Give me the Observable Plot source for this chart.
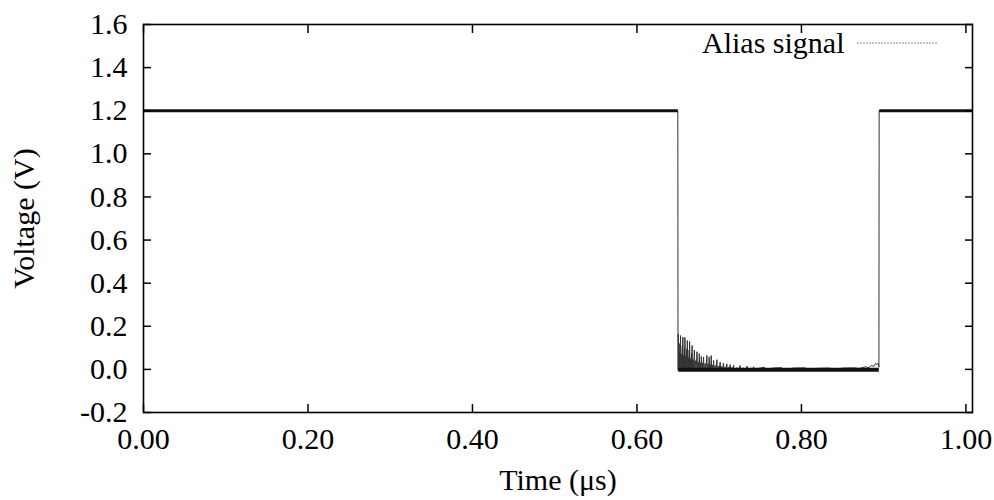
<!DOCTYPE html>
<html><head><meta charset="utf-8">
<script src="https://cdn.jsdelivr.net/npm/d3@7"></script>
<script src="https://cdn.jsdelivr.net/npm/@observablehq/plot@0.6"></script>
<style>
body{margin:0;background:#fff;}
#wrap{position:relative;width:994px;height:500px;font-family:"Liberation Serif","Times New Roman",serif;}
#legend{position:absolute;left:0;top:0;pointer-events:none;}
</style></head><body><div id="wrap"></div>
<script>
// ---- data ----
const seriesName = "Alias signal";
const xLabel = "Time (μs)";
const yLabel = "Voltage (V)";
const xTicks = [0.0, 0.2, 0.4, 0.6, 0.8, 1.0];
const yTicks = [-0.2, 0.0, 0.2, 0.4, 0.6, 0.8, 1.0, 1.2, 1.4, 1.6];

// trace samples (time in µs, voltage in V)
const traceTime = [
  0.0000, 0.6497, 0.6499, 0.6501, 0.6503, 0.6507, 0.6512, 0.6517, 0.6521, 0.6526,
  0.6530, 0.6535, 0.6541, 0.6546, 0.6552, 0.6555, 0.6558, 0.6563, 0.6569, 0.6574,
  0.6578, 0.6580, 0.6583, 0.6589, 0.6595, 0.6600, 0.6606, 0.6609, 0.6612, 0.6618,
  0.6624, 0.6630, 0.6635, 0.6637, 0.6640, 0.6646, 0.6652, 0.6658, 0.6664, 0.6667,
  0.6670, 0.6676, 0.6683, 0.6690, 0.6698, 0.6704, 0.6712, 0.6720, 0.6730, 0.6736,
  0.6745, 0.6752, 0.6758, 0.6764, 0.6771, 0.6777, 0.6783, 0.6789, 0.6797, 0.6803,
  0.6810, 0.6816, 0.6830, 0.6840, 0.6850, 0.6856, 0.6866, 0.6872, 0.6878, 0.6884,
  0.6892, 0.6897, 0.6903, 0.6909, 0.6920, 0.6926, 0.6932, 0.6938, 0.6952, 0.6962,
  0.6972, 0.6978, 0.6992, 0.7002, 0.7012, 0.7018, 0.7032, 0.7042, 0.7052, 0.7058,
  0.7073, 0.7083, 0.7093, 0.7099, 0.7115, 0.7125, 0.7133, 0.7139, 0.7155, 0.7165,
  0.7175, 0.7181, 0.7215, 0.7235, 0.7255, 0.7261, 0.7300, 0.7320, 0.7340, 0.7346,
  0.7380, 0.7400, 0.7420, 0.7426, 0.7480, 0.7550, 0.7556, 0.7650, 0.7760, 0.7766,
  0.7900, 0.8050, 0.8056, 0.8200, 0.8350, 0.8356, 0.8500, 0.8650, 0.8700, 0.8780,
  0.8820, 0.8850, 0.8880, 0.8900, 0.8920, 0.8935, 0.8942, 0.8945, 1.0080
];
const traceVolt = [
  1.200, 1.200, 0.170, -0.005, 0.165, -0.004, 0.080, 0.000, 0.120, -0.005,
  0.157, 0.002, 0.070, -0.004, 0.110, 0.000, 0.150, -0.005, 0.065, 0.003,
  0.100, -0.003, 0.148, 0.000, 0.060, -0.004, 0.095, 0.002, 0.134, -0.005,
  0.055, 0.001, 0.090, -0.003, 0.130, 0.002, 0.050, -0.004, 0.075, 0.000,
  0.111, -0.005, 0.045, 0.002, 0.090, -0.004, 0.040, 0.001, 0.082, -0.005,
  0.035, 0.002, 0.073, -0.004, 0.030, 0.001, 0.060, -0.005, 0.030, 0.002,
  0.057, -0.004, 0.028, 0.000, 0.065, -0.005, 0.025, 0.002, 0.058, -0.004,
  0.022, 0.001, 0.064, -0.005, 0.020, 0.002, 0.042, -0.004, 0.018, 0.001,
  0.045, -0.005, 0.016, 0.002, 0.034, -0.004, 0.014, 0.000, 0.030, -0.005,
  0.012, 0.002, 0.026, -0.004, 0.010, 0.001, 0.022, -0.005, 0.009, 0.000,
  0.020, -0.004, 0.008, 0.001, 0.018, -0.004, 0.007, 0.000, 0.015, -0.004,
  0.006, 0.001, 0.012, -0.004, 0.005, 0.010, -0.003, 0.006, 0.008, -0.004,
  0.006, 0.007, -0.004, 0.005, 0.006, -0.004, 0.006, 0.007, 0.004, 0.012,
  0.008, 0.018, 0.014, 0.028, 0.022, 0.030, 0.010, 1.200, 1.200
];

// steady (noisy) levels of the signal
const levelStart = [0.0000, 0.6503, 0.8946];
const levelEnd   = [0.6496, 0.8941, 1.0080];
const levelVolt  = [1.200, -0.002, 1.200];

// ---- build tables ----
const trace = traceTime.map((t, i) => ({t, v: traceVolt[i]}));
const levels = levelStart.map((s, i) => ({s, e: levelEnd[i], v: levelVolt[i], low: levelVolt[i] < 0.5}));

const font = '"Liberation Serif","Times New Roman",serif';
const chart = Plot.plot({
  width: 994, height: 500,
  marginLeft: 143, marginRight: 22, marginTop: 24, marginBottom: 88,
  x: {domain: [0, 1.008]},
  y: {domain: [-0.2, 1.6]},
  style: {fontFamily: font, fontSize: "30px", color: "black", background: "white"},
  marks: [
    Plot.line(trace, {x: "t", y: "v", stroke: "#333", strokeWidth: 1}),
    Plot.link(levels, {x1: "s", x2: "e", y1: "v", y2: "v", stroke: "#111",
      strokeWidth: d => d.low ? 4 : 3}),
    Plot.frame({stroke: "black", strokeWidth: 1.6}),
    Plot.axisY({anchor: "left", ticks: yTicks, tickSize: 0, tickPadding: 16,
      tickFormat: d => d.toFixed(1), fontSize: 30,
      label: yLabel, labelAnchor: "center", labelArrow: "none", labelOffset: 131}),
    Plot.axisX({anchor: "bottom", ticks: xTicks, tickSize: 0, tickPadding: 15,
      tickFormat: d => d.toFixed(2), fontSize: 30,
      label: xLabel, labelAnchor: "center", labelArrow: "none", labelOffset: 77}),
    Plot.axisY({anchor: "left", ticks: yTicks, tickSize: -8, text: null, label: null, strokeWidth: 1.5}),
    Plot.axisY({anchor: "right", ticks: yTicks, tickSize: -8, text: null, label: null, strokeWidth: 1.5}),
    Plot.axisX({anchor: "bottom", ticks: xTicks, tickSize: -8, text: null, label: null, strokeWidth: 1.5}),
    Plot.axisX({anchor: "top", ticks: xTicks, tickSize: -8, text: null, label: null, strokeWidth: 1.5})
  ]
});
const wrap = document.getElementById("wrap");
wrap.appendChild(chart);

// legend (key) inside the top-right of the plot frame
const ns = "http://www.w3.org/2000/svg";
const leg = document.createElementNS(ns, "svg");
leg.setAttribute("id", "legend");
leg.setAttribute("width", 994); leg.setAttribute("height", 80);
const txt = document.createElementNS(ns, "text");
txt.setAttribute("x", 702); txt.setAttribute("y", 53);
txt.setAttribute("font-family", font); txt.setAttribute("font-size", 30);
txt.textContent = seriesName;
leg.appendChild(txt);
const ln = document.createElementNS(ns, "line");
ln.setAttribute("x1", 857); ln.setAttribute("x2", 938);
ln.setAttribute("y1", 43); ln.setAttribute("y2", 43);
ln.setAttribute("stroke", "#888"); ln.setAttribute("stroke-width", 1);
ln.setAttribute("stroke-dasharray", "2,1");
leg.appendChild(ln);
wrap.appendChild(leg);
</script></body></html>
